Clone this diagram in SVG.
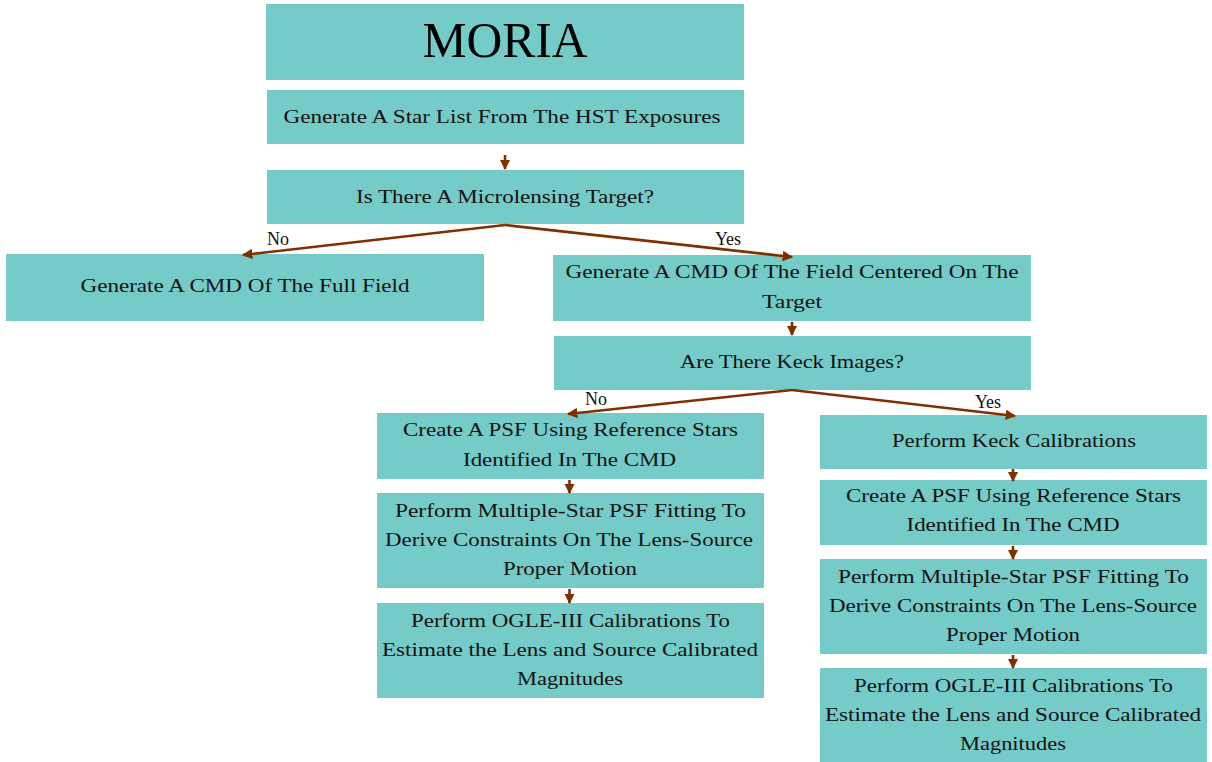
<svg xmlns="http://www.w3.org/2000/svg" width="1212" height="762" viewBox="0 0 1212 762">
<style>
.box{fill:#74cbc8}
.t{font-family:"Liberation Serif","Times New Roman",serif;font-size:19.5px;fill:#111;text-anchor:middle}
.title{font-family:"Liberation Serif","Times New Roman",serif;font-size:50px;fill:#000;text-anchor:middle}
.lbl{font-family:"Liberation Serif","Times New Roman",serif;font-size:18px;fill:#111;text-anchor:middle}
.c{stroke:#7f2f00;stroke-width:2.6;fill:none;marker-end:url(#ah)}
</style>
<defs>
<marker id="ah" viewBox="0 0 10 10" refX="9" refY="5" markerWidth="4" markerHeight="4" orient="auto" markerUnits="strokeWidth">
<path d="M0,0 L10,5 L0,10 z" fill="#7f2f00"/>
</marker>
</defs>
<rect width="1212" height="762" fill="#fff"/>
<g id="moria"><rect class="box" x="266" y="4" width="478" height="76"/><text class="title" x="505" y="57" textLength="165" lengthAdjust="spacingAndGlyphs">MORIA</text></g>
<g id="starlist"><rect class="box" x="267" y="90" width="477" height="54"/><text class="t" x="502" y="123" textLength="437" lengthAdjust="spacingAndGlyphs">Generate A Star List From The HST Exposures</text></g>
<g id="target"><rect class="box" x="267" y="170" width="477" height="54"/><text class="t" x="505" y="203" textLength="298" lengthAdjust="spacingAndGlyphs">Is There A Microlensing Target?</text></g>
<g id="cmdfull"><rect class="box" x="6" y="254" width="478" height="67"/><text class="t" x="245" y="292" textLength="329" lengthAdjust="spacingAndGlyphs">Generate A CMD Of The Full Field</text></g>
<g id="cmdtarget"><rect class="box" x="553" y="255" width="478" height="66"/><text class="t" x="792" y="278" textLength="453" lengthAdjust="spacingAndGlyphs">Generate A CMD Of The Field Centered On The</text><text class="t" x="792" y="308" textLength="60" lengthAdjust="spacingAndGlyphs">Target</text></g>
<g id="keckq"><rect class="box" x="554" y="336" width="477" height="54"/><text class="t" x="792" y="368" textLength="224" lengthAdjust="spacingAndGlyphs">Are There Keck Images?</text></g>
<g id="psfL"><rect class="box" x="377" y="413" width="387" height="66"/><text class="t" x="570.5" y="436" textLength="335" lengthAdjust="spacingAndGlyphs">Create A PSF Using Reference Stars</text><text class="t" x="569.5" y="466" textLength="213" lengthAdjust="spacingAndGlyphs">Identified In The CMD</text></g>
<g id="fitL"><rect class="box" x="377" y="493" width="387" height="95"/><text class="t" x="570.5" y="517" textLength="351" lengthAdjust="spacingAndGlyphs">Perform Multiple-Star PSF Fitting To</text><text class="t" x="569" y="546" textLength="368" lengthAdjust="spacingAndGlyphs">Derive Constraints On The Lens-Source</text><text class="t" x="570" y="575" textLength="134" lengthAdjust="spacingAndGlyphs">Proper Motion</text></g>
<g id="ogleL"><rect class="box" x="377" y="603" width="387" height="95"/><text class="t" x="570.5" y="627" textLength="319" lengthAdjust="spacingAndGlyphs">Perform OGLE-III Calibrations To</text><text class="t" x="570" y="656" textLength="376" lengthAdjust="spacingAndGlyphs">Estimate the Lens and Source Calibrated</text><text class="t" x="570" y="685" textLength="106" lengthAdjust="spacingAndGlyphs">Magnitudes</text></g>
<g id="keckcal"><rect class="box" x="820" y="415" width="387" height="54"/><text class="t" x="1014" y="447" textLength="244" lengthAdjust="spacingAndGlyphs">Perform Keck Calibrations</text></g>
<g id="psfR"><rect class="box" x="820" y="480" width="387" height="65"/><text class="t" x="1013.5" y="502" textLength="335" lengthAdjust="spacingAndGlyphs">Create A PSF Using Reference Stars</text><text class="t" x="1013" y="531" textLength="213" lengthAdjust="spacingAndGlyphs">Identified In The CMD</text></g>
<g id="fitR"><rect class="box" x="820" y="559" width="387" height="95"/><text class="t" x="1013.5" y="583" textLength="351" lengthAdjust="spacingAndGlyphs">Perform Multiple-Star PSF Fitting To</text><text class="t" x="1013" y="612" textLength="368" lengthAdjust="spacingAndGlyphs">Derive Constraints On The Lens-Source</text><text class="t" x="1013" y="641" textLength="134" lengthAdjust="spacingAndGlyphs">Proper Motion</text></g>
<g id="ogleR"><rect class="box" x="820" y="668" width="387" height="94"/><text class="t" x="1013.5" y="692" textLength="319" lengthAdjust="spacingAndGlyphs">Perform OGLE-III Calibrations To</text><text class="t" x="1013" y="721" textLength="376" lengthAdjust="spacingAndGlyphs">Estimate the Lens and Source Calibrated</text><text class="t" x="1013" y="750" textLength="106" lengthAdjust="spacingAndGlyphs">Magnitudes</text></g>
<g id="connectors">
<line class="c" x1="505" y1="155" x2="505" y2="169"/>
<line class="c" x1="505" y1="225" x2="243" y2="255"/>
<line class="c" x1="505" y1="225" x2="792" y2="257"/>
<line class="c" x1="792" y1="322" x2="792" y2="335"/>
<line class="c" x1="792" y1="390" x2="568" y2="414"/>
<line class="c" x1="792" y1="390" x2="1015" y2="416"/>
<line class="c" x1="569.5" y1="480" x2="569.5" y2="493"/>
<line class="c" x1="569.5" y1="589" x2="569.5" y2="603"/>
<line class="c" x1="1013" y1="469" x2="1013" y2="481"/>
<line class="c" x1="1013" y1="546" x2="1013" y2="559"/>
<line class="c" x1="1013" y1="655" x2="1013" y2="668"/>
<text class="lbl" x="278" y="245">No</text>
<text class="lbl" x="728" y="245">Yes</text>
<text class="lbl" x="596" y="405">No</text>
<text class="lbl" x="988" y="408">Yes</text>
</g>
</svg>
